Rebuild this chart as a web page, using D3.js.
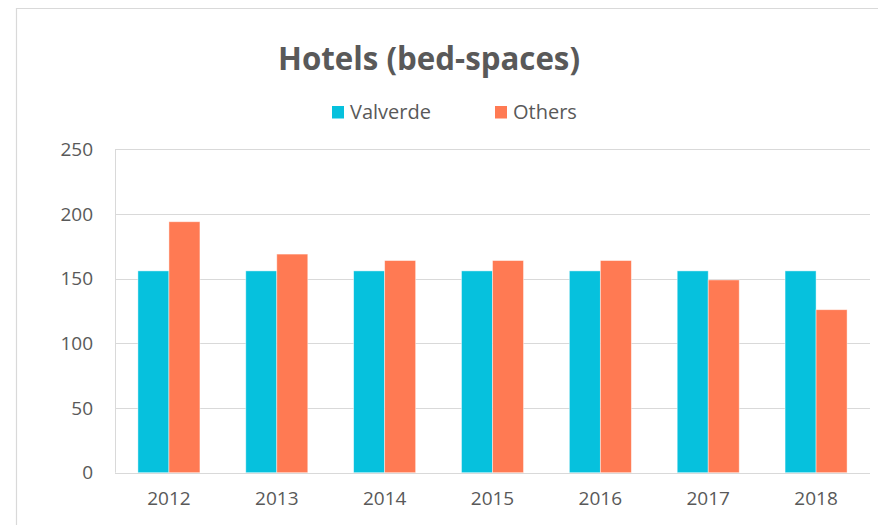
<!DOCTYPE html>
<html>
<head>
<meta charset="utf-8">
<script src="https://cdn.jsdelivr.net/npm/d3@7"></script>
<style>
  html, body { margin: 0; padding: 0; background: #fff; }
  svg { display: block; font-family: "Open Sans", sans-serif; }
</style>
</head>
<body>
<svg id="chart" width="878" height="525"></svg>
<script>
const title = "Hotels (bed-spaces)";
const categories = ["2012", "2013", "2014", "2015", "2016", "2017", "2018"];
const seriesNames = ["Valverde", "Others"];
const valverde = [156, 156, 156, 156, 156, 156, 156];
const others = [194, 169, 164, 164, 164, 149, 126];
const yTicks = [0, 50, 100, 150, 200, 250];
const colors = ["#06C1DD", "#FF7A53"];

const svg = d3.select("#chart");
const W = 878, H = 525;
const m = { left: 115, right: 8, top: 149.3, bottom: 52.3 };
const textColor = "#595959";
const FONT = "'Open Sans', sans-serif";

function fitWidth(sel, target) {
  const n = sel.node();
  const fs = parseFloat(sel.attr("font-size"));
  const w = n.getComputedTextLength();
  if (w > 0) sel.attr("font-size", fs * target / w);
}

// frame
svg.append("path")
  .attr("d", `M16.5,${H} V8.5 H${W}`)
  .attr("fill", "none").attr("stroke", "#d9d9d9").attr("stroke-width", 1.2);

const x = d3.scaleBand().domain(categories).range([m.left, W - m.right]).padding(0);
const y = d3.scaleLinear().domain([0, 250]).range([H - m.bottom, m.top]);
const inner = d3.scaleBand().domain(seriesNames)
  .range([0, x.bandwidth() * 0.575]).padding(0);

// gridlines
svg.append("g").selectAll("line").data(yTicks.filter(d => d > 0)).join("line")
  .attr("x1", m.left).attr("x2", W - m.right)
  .attr("y1", d => Math.round(y(d)) + 0.5).attr("y2", d => Math.round(y(d)) + 0.5)
  .attr("stroke", "#d9d9d9").attr("stroke-width", 1);
svg.append("line").attr("x1", m.left + 0.5).attr("x2", m.left + 0.5)
  .attr("y1", y(250)).attr("y2", y(0))
  .attr("stroke", "#d9d9d9");

// y axis labels
const yAxis = d3.axisLeft(y).tickValues(yTicks).tickSize(0).tickPadding(22);
const gy = svg.append("g").attr("transform", `translate(${m.left},0)`).call(yAxis);
gy.select(".domain").remove();
gy.selectAll("text").attr("fill", textColor).attr("font-size", 19).attr("font-family", FONT);

// bars
const data = categories.map((c, i) => ({ cat: c, vals: [valverde[i], others[i]] }));
const groupW = inner.range()[1];
const g = svg.append("g");
data.forEach(d => {
  const x0 = x(d.cat) + (x.bandwidth() - groupW) / 2;
  g.selectAll(null).data(d.vals).join("rect")
    .attr("x", (v, j) => x0 + inner(seriesNames[j]))
    .attr("y", v => y(v))
    .attr("width", inner.bandwidth())
    .attr("height", v => y(0) - y(v))
    .attr("fill", (v, j) => colors[j])
    .attr("stroke", "rgba(255,255,255,0.55)")
    .attr("stroke-width", 0.8);
});

// x axis line
svg.append("line").attr("x1", m.left).attr("x2", W - m.right)
  .attr("y1", Math.round(y(0)) + 0.5).attr("y2", Math.round(y(0)) + 0.5)
  .attr("stroke", "#d9d9d9").attr("stroke-width", 1.2);

const xAxis = d3.axisBottom(x).tickSize(0).tickPadding(19);
const gx = svg.append("g").attr("transform", `translate(0,${y(0)})`).call(xAxis);
gx.select(".domain").remove();
gx.selectAll("text").attr("fill", textColor).attr("font-size", 19).attr("font-family", FONT);

// title
const t = svg.append("text").attr("x", 429).attr("y", 70)
  .attr("text-anchor", "middle").attr("font-size", 30).attr("font-weight", "bold")
  .attr("font-family", FONT).attr("fill", textColor).text(title);
fitWidth(t, 302);

// legend
const legendX = [332, 495];
const lg = svg.append("g");
seriesNames.forEach((s, i) => {
  lg.append("rect").attr("x", legendX[i]).attr("y", 106).attr("width", 12).attr("height", 12.5)
    .attr("fill", colors[i]);
  const lt = lg.append("text").attr("x", legendX[i] + 18).attr("y", 119)
    .attr("font-size", 19).attr("font-family", FONT).attr("fill", textColor).text(s);
  if (i === 0) fitWidth(lt, 81);
  else lt.attr("font-size", lg.select("text").attr("font-size"));
});
</script>
</body>
</html>
